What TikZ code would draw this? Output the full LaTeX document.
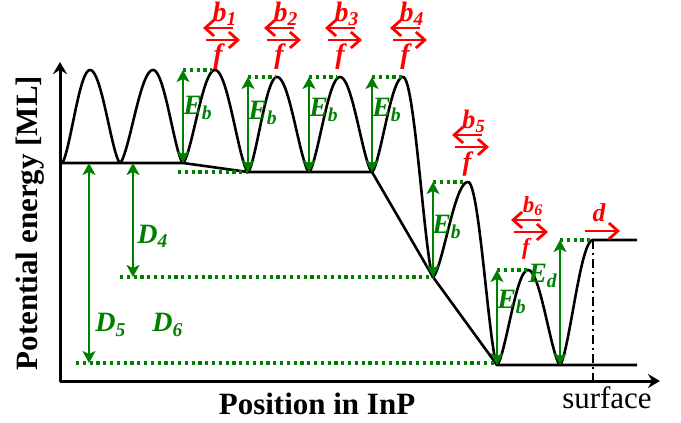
\documentclass[tikz,border=0pt]{standalone}
\usepackage{fontspec}
\setmainfont{Liberation Serif}
\usetikzlibrary{arrows.meta}
\definecolor{dkgreen}{RGB}{0,128,0}
\begin{document}
\begin{tikzpicture}[x=0.5pt,y=-0.5pt,line join=round,
	curve/.style={line width=1.3pt},
	lvl/.style={dkgreen,line width=1.6pt,dash pattern=on 1.6pt off 1.8pt},
	dim/.style={dkgreen,line width=1pt,{Stealth[length=6pt,width=6.5pt,inset=1.5pt]}-{Stealth[length=6pt,width=6.5pt,inset=1.5pt]}},
	glab/.style={dkgreen,font=\fontsize{14}{15}\selectfont\bfseries\itshape,inner sep=0pt},
	rlab/.style={red,font=\fontsize{14}{15}\selectfont\bfseries\itshape,inner sep=0pt},
	rarr/.style={red,line width=1.4pt,-{Straight Barb[length=4.5pt,width=8pt]}}]
	\useasboundingbox (0,0) rectangle (681,423);
	\draw[line width=1.5pt,{Stealth[length=6pt,width=7pt,inset=2pt]}-{Stealth[length=6pt,width=7pt,inset=2pt]}] (60,62) |- (660,381); %axes
	\node[font=\fontsize{15.5}{16}\selectfont\bfseries,rotate=90] (ylab) at (30,223) {Potential energy [ML]};
	\node[font=\fontsize{15.5}{16}\selectfont\bfseries] (xlab) at (317,404) {Position in InP};
	\node[font=\fontsize{15.5}{16}\selectfont] (surf) at (607,398) {surface};
	
	% valleys and barrier tops
	\foreach \i/\vx/\vy/\ty in {1/183/163/70, 2/248/172/77, 3/309/172/77, 4/372/172/77, 5/433/277/182, 6/497/365/270, 7/560/365/240}{
		\coordinate (v\i) at (\vx,\vy); \coordinate (t\i) at (\vx,\ty);}
	
	% barriers
	\foreach \xa/\ya/\xp/\yp/\xb/\yb in {62/163/90/70/120/163, 120/163/153/70/183/163, 183/163/215/70/248/172, 248/172/277/77/309/172, 309/172/340/77/372/172, 372/172/403/77/433/277, 433/277/468/182/497/365, 497/365/528/270/560/365}{
		\draw[curve] (\xa,\ya) -- plot[domain=1:90,samples=30] ({\xa+(\xp-\xa)*\x/90},{\ya+(\yp-\ya)*pow(sin(\x),1.5)})
		-- plot[domain=90:1,samples=30] ({\xb-(\xb-\xp)*\x/90},{\yb+(\yp-\yb)*pow(sin(\x),1.5)}) -- (\xb,\yb);}
	\draw[curve] (v7) -- plot[domain=1:90,samples=30] ({560+33*\x/90},{365-125*pow(sin(\x),1.5)}) -- (637,240); %desorption
	\draw[curve] (60,163) -- (v1) -- (v2) -- (v4) -- (v5) -- (v6) -- (637,365); %bottom
	\draw[line width=1pt,dash pattern=on 4.5pt off 2pt on 1pt off 2pt] (593,240) -- (593,381); %surface
	
	% levels
	\foreach \i/\l in {1/29, 2/28, 3/28, 4/30, 5/30, 6/32, 7/33}{\draw[lvl] (t\i) -- ++(\l,0);}
	\draw[lvl] (178,172) -- (v2);
	\draw[lvl] (120,277) -- (v5);
	\draw[lvl] (76,363) -- (497,363);
	
	% energies
	\foreach \i in {1,...,7}{\draw[dim] (t\i) -- (v\i);}
	\foreach \i/\lx/\ly in {1/198/108, 2/263/113, 3/324/110, 4/387/110, 5/447/227, 6/512/302}{
		\node[glab] (eb\i) at (\lx,\ly) {E\textsubscript{b}};}
	\node[glab] (ed) at (543,276) {E\textsubscript{d}};
	\coordinate (d4a) at (133,163); \coordinate (d4b) at (133,277);
	\coordinate (d5a) at (89,163); \coordinate (d5b) at (89,363);
	\draw[dim] (d4a) -- (d4b);
	\draw[dim] (d5a) -- (d5b);
	\node[glab] (D4) at (153,236) {D\textsubscript{4}};
	\node[glab] (D5) at (111,325) {D\textsubscript{5}};
	\node[glab] (D6) at (168,325) {D\textsubscript{6}};
	
	% hopping rates
	\foreach \n/\cx/\cy/\s in {1/223/28/1, 2/284/28/1, 3/345/28/1, 4/410/28/1, 5/472/135/0.95, 6/531/220/0.82}{
		\node[rlab,scale=\s] (b\n) at (\cx+2,\cy-14) {b\textsubscript{\n}};
		\draw[rarr] (\cx+10,\cy) -- (\cx-20,\cy);
		\draw[rarr] (\cx-17,\cy+12) -- (\cx+17,\cy+12);
		\node[rlab,scale=\s] (f\n) at (\cx-5,\cy+29) {f};}
	\node[rlab,scale=0.92] (dd) at (599,213) {d};
	\draw[rarr] (585,231) -- (620,231);
\end{tikzpicture}
\end{document}
